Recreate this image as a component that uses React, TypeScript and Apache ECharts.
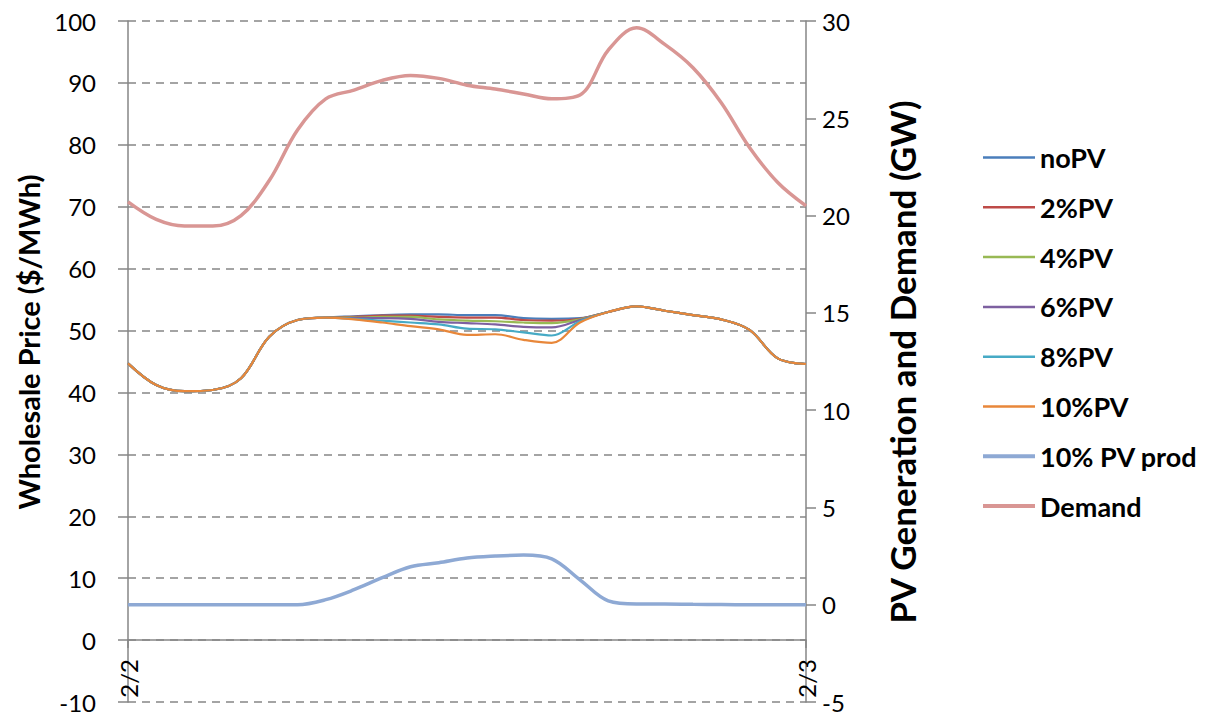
import React, { useEffect, useRef } from "react";
import * as echarts from "echarts";

const hours = [0,1,2,3,4,5,6,7,8,9,10,11,12,13,14,15,16,17,18,19,20,21,22,23,24];
const xTickLabels: Record<number, string> = { 0: "2/2", 24: "2/3" };

const head = [44.7, 41.2, 40.2, 40.4, 42.3, 49.0, 51.7, 52.1];
const tail = [53.0, 53.9, 53.2, 52.5, 51.8, 50.1, 45.5, 44.6];

const noPVMid = [52.3, 52.5, 52.6, 52.6, 52.5, 52.5, 52.0, 51.9, 52.0];
const pv2Mid = [52.2, 52.4, 52.4, 52.2, 52.1, 52.1, 51.7, 51.6, 51.9];
const pv4Mid = [52.1, 52.2, 52.2, 51.8, 51.6, 51.5, 51.3, 51.2, 51.8];
const pv6Mid = [52.0, 52.0, 51.9, 51.4, 51.2, 51.0, 50.6, 50.5, 51.7];
const pv8Mid = [51.9, 51.6, 51.3, 51.0, 50.3, 50.2, 49.7, 49.2, 51.5];
const pv10Mid = [51.8, 51.3, 50.7, 50.2, 49.3, 49.4, 48.5, 48.0, 51.3];

const pvProd = [0, 0, 0, 0, 0, 0, 0, 0.26, 0.77, 1.39, 1.95, 2.16, 2.4, 2.5, 2.55, 2.36, 1.28, 0.2, 0.04, 0.04, 0.02, 0.01, 0, 0, 0];
const demand = [20.7, 19.8, 19.46, 19.46, 20.0, 21.8, 24.4, 26.0, 26.45, 26.95, 27.2, 27.05, 26.7, 26.5, 26.25, 26.0, 26.2, 28.5, 29.65, 28.8, 27.6, 25.8, 23.5, 21.7, 20.5];

const priceSeries = [
  { name: "noPV", mid: noPVMid, color: "#4A7EBB" },
  { name: "2%PV", mid: pv2Mid, color: "#BE4B48" },
  { name: "4%PV", mid: pv4Mid, color: "#98B954" },
  { name: "6%PV", mid: pv6Mid, color: "#7D60A0" },
  { name: "8%PV", mid: pv8Mid, color: "#46AAC5" },
  { name: "10%PV", mid: pv10Mid, color: "#E8873A" },
];

const leftAxisName = "Wholesale Price ($/MWh)";
const rightAxisName = "PV Generation and Demand (GW)";

const FONT = "Lato";
const AXIS = "#868686";

export default function App() {
  const ref = useRef<HTMLDivElement>(null);
  useEffect(() => {
    const chart = echarts.init(ref.current!, null, { renderer: "svg" });
    const pair = (vals: number[]) => hours.map((h, i) => [h, vals[i]]);
    const series: any[] = priceSeries.map((s) => ({
      name: s.name,
      type: "line",
      yAxisIndex: 0,
      data: pair([...head, ...s.mid, ...tail]),
      smooth: 0.35,
      symbol: "none",
      lineStyle: { width: 2.2, color: s.color },
      itemStyle: { color: s.color },
    }));
    series.push({
      name: "10% PV prod",
      type: "line",
      yAxisIndex: 1,
      data: pair(pvProd),
      smooth: 0.35,
      symbol: "none",
      lineStyle: { width: 3.5, color: "#8EA9D4" },
      itemStyle: { color: "#8EA9D4" },
    });
    series.push({
      name: "Demand",
      type: "line",
      yAxisIndex: 1,
      data: pair(demand),
      smooth: 0.35,
      symbol: "none",
      lineStyle: { width: 3.5, color: "#D99694" },
      itemStyle: { color: "#D99694" },
    });

    const nameStyle = { fontWeight: "bold", fill: "#000", fontFamily: FONT, align: "center", verticalAlign: "middle" };

    chart.setOption({
      animation: false,
      textStyle: { fontFamily: FONT },
      grid: { left: 128, right: 411, top: 21, bottom: 15, containLabel: false, outerBoundsMode: "none" },
      legend: {
        orient: "vertical",
        left: 978,
        top: 139,
        itemWidth: 52,
        itemHeight: 14,
        itemGap: 22.8,
        textStyle: { fontFamily: FONT, fontSize: 27, fontWeight: "bold", color: "#000", padding: [0, 0, 0, 0] },
        data: series.map((s) => {
          const h = s.lineStyle.width > 3 ? 4 : 2.5;
          return {
            name: s.name,
            icon: "path://M0,0 L52,0 L52," + h + " L0," + h + " Z",
            itemStyle: { color: s.lineStyle.color },
          };
        }),
      },
      graphic: [
        { type: "text", x: 28, y: 342, rotation: Math.PI / 2, style: { ...nameStyle, fontSize: 29, text: leftAxisName } },
        { type: "text", x: 902, y: 362, rotation: Math.PI / 2, style: { ...nameStyle, fontSize: 35, text: rightAxisName } },
      ],
      xAxis: {
        type: "value",
        min: 0,
        max: 24,
        interval: 24,
        offset: -62,
        axisLine: { onZero: false, lineStyle: { color: AXIS, width: 1.5 } },
        axisTick: { show: true, inside: false, length: 8, lineStyle: { color: AXIS, width: 1.5 } },
        splitLine: { show: false },
        axisLabel: {
          rotate: 90,
          margin: 19,
          fontSize: 24,
          color: "#000",
          fontFamily: FONT,
          formatter: (v: number) => xTickLabels[v] ?? "",
        },
      },
      yAxis: [
        {
          type: "value",
          min: -10,
          max: 100,
          interval: 10,
          position: "left",
          axisLine: { show: true, onZero: false, lineStyle: { color: AXIS, width: 1.5 } },
          axisTick: { show: true, length: 10, lineStyle: { color: AXIS, width: 1.5 } },
          axisLabel: { fontSize: 24, color: "#000", margin: 32, fontFamily: FONT },
          splitLine: { show: true, lineStyle: { color: AXIS, type: [8, 6], width: 1.5 } },
        },
        {
          type: "value",
          min: -5,
          max: 30,
          interval: 5,
          position: "right",
          axisLine: { show: true, onZero: false, lineStyle: { color: AXIS, width: 1.5 } },
          axisTick: { show: true, length: 10, lineStyle: { color: AXIS, width: 1.5 } },
          axisLabel: { fontSize: 24, color: "#000", margin: 16, fontFamily: FONT },
          splitLine: { show: false },
        },
      ],
      series,
    });
    return () => chart.dispose();
  }, []);
  return <div ref={ref} style={{ width: 1217, height: 717, position: "absolute", left: 0, top: 0 }} />;
}
